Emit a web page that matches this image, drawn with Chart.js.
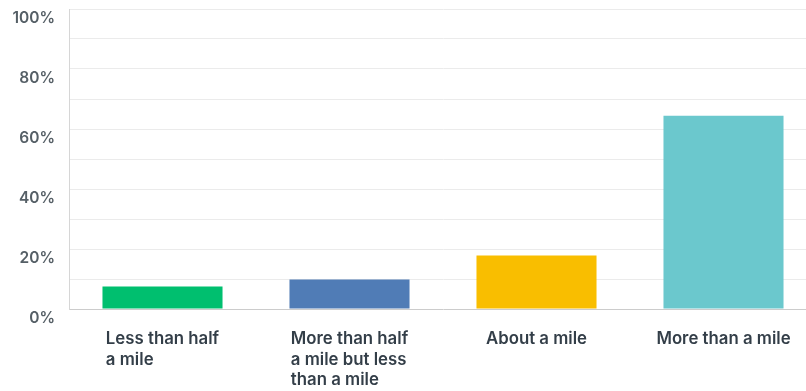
<!DOCTYPE html>
<html>
<head>
<meta charset="utf-8">
<script src="https://cdn.jsdelivr.net/npm/chart.js@4"></script>
<style>
  html, body { margin: 0; padding: 0; background: #fff; overflow: hidden; }
  #wrap { width: 817px; height: 391px; }
</style>
</head>
<body>
<div id="wrap"><canvas id="chart"></canvas></div>
<script>
const categories = [
  ['Less than half', 'a mile'],
  ['More than half', 'a mile but less', 'than a mile'],
  ['About a mile'],
  ['More than a mile']
];
const percentValues = [7.5, 9.8, 17.8, 64.4];
const barColors = ['#00BF6F', '#507CB6', '#F9BE00', '#6BC8CD'];
const yTicks = [0, 20, 40, 60, 80, 100];

const labelFont = '600 16.8px Inter, "Noto Sans", sans-serif';

// draws the x labels: each block centred on its bar, lines left aligned
const leftLabels = {
  id: 'leftLabels',
  afterDraw(chart) {
    const ctx = chart.ctx;
    const x = chart.scales.x;
    ctx.save();
    ctx.font = labelFont;
    ctx.fillStyle = '#333e48';
    ctx.textAlign = 'left';
    ctx.textBaseline = 'alphabetic';
    categories.forEach((lines, i) => {
      const cx = x.getPixelForValue(i);
      const w = Math.max(...lines.map(l => ctx.measureText(l).width));
      lines.forEach((l, j) => {
        ctx.fillText(l, cx - w / 2, x.top + 35 + j * 20.5);
      });
    });
    ctx.restore();
  }
};

new Chart(document.getElementById('chart'), {
  type: 'bar',
  data: {
    labels: categories,
    datasets: [{
      data: percentValues,
      backgroundColor: barColors,
      borderWidth: 0,
      barPercentage: 0.642,
      categoryPercentage: 1
    }]
  },
  options: {
    responsive: true,
    maintainAspectRatio: false,
    animation: false,
    layout: { padding: 0 },
    plugins: { legend: { display: false }, tooltip: { enabled: false } },
    scales: {
      x: {
        grid: { display: false },
        border: { display: false },
        ticks: { display: false },
        afterFit: s => { s.height = 82; }
      },
      y: {
        min: 0,
        max: 100,
        afterFit: s => { s.width = 69; s.paddingTop = 9; s.paddingBottom = 0; },
        border: { color: '#d6d6d6', width: 1 },
        grid: {
          drawTicks: false,
          color: c => c.tick.value === 0 ? '#cccccc' : '#ebebeb',
          lineWidth: 1
        },
        ticks: {
          stepSize: 10,
          padding: 14,
          labelOffset: 9,
          color: '#555f66',
          font: { family: 'Inter, "Noto Sans", sans-serif', size: 15.5, weight: '600' },
          callback: v => yTicks.includes(v) ? v + '%' : ''
        }
      }
    }
  },
  plugins: [leftLabels]
});
</script>
</body>
</html>
